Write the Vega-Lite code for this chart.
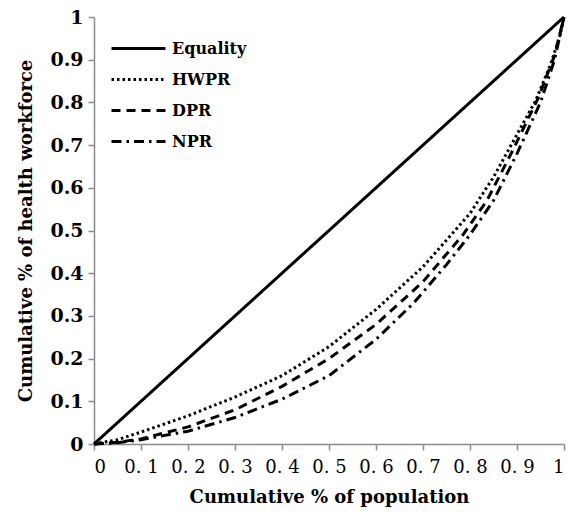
{
  "$schema": "https://vega.github.io/schema/vega-lite/v6.json",
  "width": 470,
  "height": 427,
  "autosize": {"type": "none"},
  "padding": {"left": 94, "top": 17, "right": 7, "bottom": 76},
  "background": "white",
  "data": {
    "values": [
      {"series": "Equality", "x": 0, "y": 0},
      {"series": "Equality", "x": 1, "y": 1},
      {"series": "HWPR", "x": 0, "y": 0},
      {"series": "HWPR", "x": 0.05, "y": 0.01},
      {"series": "HWPR", "x": 0.1, "y": 0.028},
      {"series": "HWPR", "x": 0.2, "y": 0.066},
      {"series": "HWPR", "x": 0.3, "y": 0.11},
      {"series": "HWPR", "x": 0.4, "y": 0.16},
      {"series": "HWPR", "x": 0.5, "y": 0.228},
      {"series": "HWPR", "x": 0.6, "y": 0.315},
      {"series": "HWPR", "x": 0.7, "y": 0.415},
      {"series": "HWPR", "x": 0.8, "y": 0.54},
      {"series": "HWPR", "x": 0.85, "y": 0.625},
      {"series": "HWPR", "x": 0.9, "y": 0.725},
      {"series": "HWPR", "x": 0.94, "y": 0.805},
      {"series": "HWPR", "x": 0.97, "y": 0.885},
      {"series": "HWPR", "x": 0.99, "y": 0.95},
      {"series": "HWPR", "x": 1, "y": 1},
      {"series": "DPR", "x": 0, "y": 0},
      {"series": "DPR", "x": 0.05, "y": 0.004},
      {"series": "DPR", "x": 0.1, "y": 0.012},
      {"series": "DPR", "x": 0.2, "y": 0.04},
      {"series": "DPR", "x": 0.3, "y": 0.08},
      {"series": "DPR", "x": 0.4, "y": 0.135},
      {"series": "DPR", "x": 0.5, "y": 0.2},
      {"series": "DPR", "x": 0.6, "y": 0.28},
      {"series": "DPR", "x": 0.7, "y": 0.38},
      {"series": "DPR", "x": 0.785, "y": 0.49},
      {"series": "DPR", "x": 0.836, "y": 0.57},
      {"series": "DPR", "x": 0.892, "y": 0.69},
      {"series": "DPR", "x": 0.945, "y": 0.81},
      {"series": "DPR", "x": 0.98, "y": 0.91},
      {"series": "DPR", "x": 1, "y": 1},
      {"series": "NPR", "x": 0, "y": 0},
      {"series": "NPR", "x": 0.05, "y": 0.003},
      {"series": "NPR", "x": 0.1, "y": 0.01},
      {"series": "NPR", "x": 0.2, "y": 0.03},
      {"series": "NPR", "x": 0.3, "y": 0.062},
      {"series": "NPR", "x": 0.4, "y": 0.105},
      {"series": "NPR", "x": 0.5, "y": 0.16},
      {"series": "NPR", "x": 0.6, "y": 0.245},
      {"series": "NPR", "x": 0.68, "y": 0.33},
      {"series": "NPR", "x": 0.75, "y": 0.42},
      {"series": "NPR", "x": 0.8, "y": 0.49},
      {"series": "NPR", "x": 0.85, "y": 0.57},
      {"series": "NPR", "x": 0.9, "y": 0.68},
      {"series": "NPR", "x": 0.95, "y": 0.8},
      {"series": "NPR", "x": 0.98, "y": 0.9},
      {"series": "NPR", "x": 1, "y": 1}
    ]
  },
  "mark": {"type": "line", "color": "black", "strokeWidth": 3, "strokeCap": "butt"},
  "encoding": {
    "x": {
      "field": "x",
      "type": "quantitative",
      "scale": {"domain": [0, 1], "nice": false},
      "axis": {
        "values": [0, 0.1, 0.2, 0.3, 0.4, 0.5, 0.6, 0.7, 0.8, 0.9, 1],
        "labelExpr": "datum.value == 0 ? '0' : datum.value == 1 ? '1' : replace(format(datum.value, '.1f'), '.', '. ')",
        "title": "Cumulative % of population",
        "labelFont": "DejaVu Serif",
        "titleFont": "DejaVu Serif",
        "labelFontWeight": "normal",
        "labelFontSize": 18,
        "titleFontSize": 18,
        "titleFontWeight": "bold",
        "labelPadding": 8,
        "titlePadding": 12
      }
    },
    "y": {
      "field": "y",
      "type": "quantitative",
      "scale": {"domain": [0, 1], "nice": false},
      "axis": {
        "values": [0, 0.1, 0.2, 0.3, 0.4, 0.5, 0.6, 0.7, 0.8, 0.9, 1],
        "labelExpr": "datum.value == 0 ? '0' : datum.value == 1 ? '1' : format(datum.value, '.1f')",
        "title": "Cumulative % of health workforce",
        "labelFont": "DejaVu Serif",
        "titleFont": "DejaVu Serif",
        "labelFontWeight": "bold",
        "labelFontSize": 19,
        "titleFontSize": 18,
        "titleFontWeight": "bold",
        "labelPadding": 5,
        "titlePadding": 14
      }
    },
    "strokeDash": {
      "field": "series",
      "type": "nominal",
      "scale": {
        "domain": ["Equality", "HWPR", "DPR", "NPR"],
        "range": [[1, 0], [2.5, 3], [9, 6], [10, 5, 2.5, 5]]
      },
      "legend": {
        "title": null,
        "orient": "none",
        "legendX": 33,
        "legendY": 20,
        "padding": 0,
        "symbolType": "M-2.7,0H2.7",
        "symbolSize": 400,
        "symbolStrokeWidth": 3,
        "symbolStrokeColor": "black",
        "labelFont": "DejaVu Serif",
        "labelFontWeight": "bold",
        "labelFontSize": 16,
        "labelColor": "black",
        "labelOffset": 22,
        "rowPadding": 11
      }
    }
  },
  "config": {
    "view": {"stroke": null},
    "axis": {
      "grid": false,
      "domainColor": "#8c8c8c",
      "domainWidth": 1.5,
      "tickColor": "#8c8c8c",
      "tickWidth": 1.5,
      "tickSize": 6,
      "labelColor": "black",
      "titleColor": "black"
    }
  }
}
